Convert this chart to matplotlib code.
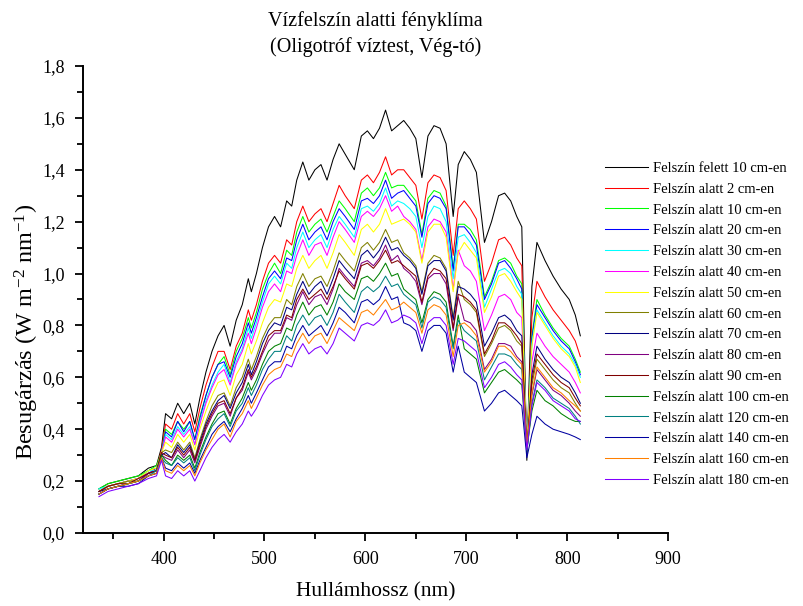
import matplotlib
matplotlib.use('Agg')
import matplotlib.pyplot as plt
from matplotlib.ticker import MultipleLocator, FuncFormatter

plt.rcParams['font.family'] = ['Liberation Serif', 'DejaVu Serif']
plt.rcParams['mathtext.fontset'] = 'custom'
plt.rcParams['mathtext.rm'] = 'Liberation Serif'
plt.rcParams['mathtext.it'] = 'Liberation Serif:italic'

# hullámhossz (nm)
wl = [336, 345, 355, 365, 375, 385, 393, 398,
      402, 408, 414, 420, 426, 431, 436, 442, 448, 454,
      460, 466, 472, 478, 484, 487, 492, 498, 504, 510,
      516, 522, 527, 532, 538, 544, 550, 556, 562, 568,
      574, 580, 589, 596, 602, 608, 614, 620, 626, 632,
      638, 644, 650, 656, 662, 668, 674, 680, 687, 692,
      698, 704, 710, 718, 725, 732, 738, 744, 750, 755,
      760, 765, 770, 778, 786, 794, 802, 808, 813]

# besugárzás (W m-2 nm-1), mélységenként
felett_10 = [0.17, 0.19, 0.20, 0.21, 0.22, 0.25, 0.26, 0.33,
             0.46, 0.44, 0.50, 0.46, 0.50, 0.42, 0.52, 0.62, 0.70, 0.76,
             0.80, 0.72, 0.82, 0.88, 0.98, 0.93, 1.00, 1.10, 1.18, 1.22,
             1.18, 1.28, 1.26, 1.36, 1.43, 1.36, 1.40, 1.42, 1.36, 1.44,
             1.50, 1.46, 1.40, 1.53, 1.55, 1.52, 1.56, 1.63, 1.55, 1.57,
             1.59, 1.56, 1.52, 1.37, 1.53, 1.57, 1.56, 1.50, 1.22, 1.42,
             1.47, 1.44, 1.39, 1.12, 1.20, 1.30, 1.31, 1.28, 1.22, 1.18,
             0.28, 0.95, 1.12, 1.05, 0.99, 0.94, 0.90, 0.84, 0.76]
alatt_2 = [0.16, 0.18, 0.19, 0.20, 0.21, 0.24, 0.25, 0.32,
           0.42, 0.40, 0.46, 0.42, 0.46, 0.39, 0.48, 0.57, 0.64, 0.70,
           0.70, 0.63, 0.72, 0.77, 0.86, 0.82, 0.88, 0.97, 1.04, 1.07,
           1.04, 1.13, 1.11, 1.20, 1.26, 1.20, 1.23, 1.25, 1.20, 1.27,
           1.34, 1.30, 1.25, 1.36, 1.38, 1.35, 1.39, 1.45, 1.38, 1.40,
           1.40, 1.37, 1.34, 1.21, 1.35, 1.38, 1.37, 1.32, 1.07, 1.25,
           1.28, 1.25, 1.21, 0.97, 1.04, 1.13, 1.14, 1.11, 1.06, 1.03,
           0.30, 0.83, 0.97, 0.91, 0.86, 0.82, 0.78, 0.74, 0.68]
alatt_10 = [0.17, 0.19, 0.20, 0.21, 0.22, 0.24, 0.26, 0.31,
            0.40, 0.38, 0.43, 0.40, 0.43, 0.36, 0.45, 0.53, 0.60, 0.65,
            0.68, 0.61, 0.70, 0.75, 0.83, 0.79, 0.85, 0.94, 1.00, 1.04,
            1.00, 1.09, 1.07, 1.16, 1.22, 1.16, 1.19, 1.21, 1.16, 1.22,
            1.28, 1.25, 1.20, 1.31, 1.33, 1.30, 1.33, 1.39, 1.33, 1.34,
            1.34, 1.31, 1.28, 1.15, 1.29, 1.32, 1.31, 1.26, 1.02, 1.19,
            1.19, 1.17, 1.13, 0.91, 0.97, 1.05, 1.06, 1.04, 0.99, 0.96,
            0.31, 0.76, 0.90, 0.84, 0.79, 0.75, 0.72, 0.67, 0.62]
alatt_20 = [0.16, 0.18, 0.19, 0.20, 0.21, 0.23, 0.25, 0.31,
            0.39, 0.37, 0.43, 0.39, 0.43, 0.36, 0.44, 0.53, 0.60, 0.65,
            0.66, 0.60, 0.68, 0.73, 0.81, 0.77, 0.83, 0.91, 0.98, 1.01,
            0.98, 1.06, 1.05, 1.13, 1.19, 1.13, 1.16, 1.18, 1.13, 1.20,
            1.25, 1.22, 1.17, 1.28, 1.29, 1.27, 1.30, 1.36, 1.29, 1.31,
            1.32, 1.29, 1.26, 1.14, 1.27, 1.30, 1.29, 1.25, 1.01, 1.18,
            1.18, 1.15, 1.11, 0.90, 0.96, 1.04, 1.05, 1.02, 0.98, 0.94,
            0.30, 0.75, 0.88, 0.83, 0.78, 0.74, 0.71, 0.66, 0.61]
alatt_30 = [0.17, 0.18, 0.19, 0.20, 0.21, 0.24, 0.24, 0.31,
            0.38, 0.36, 0.41, 0.38, 0.41, 0.34, 0.43, 0.51, 0.57, 0.62,
            0.65, 0.58, 0.66, 0.71, 0.79, 0.75, 0.81, 0.89, 0.96, 0.99,
            0.96, 1.04, 1.02, 1.10, 1.16, 1.10, 1.13, 1.15, 1.10, 1.17,
            1.22, 1.19, 1.14, 1.25, 1.26, 1.24, 1.27, 1.33, 1.26, 1.28,
            1.27, 1.25, 1.22, 1.10, 1.22, 1.26, 1.25, 1.20, 0.98, 1.14,
            1.15, 1.12, 1.08, 0.87, 0.94, 1.01, 1.02, 1.00, 0.95, 0.92,
            0.31, 0.73, 0.86, 0.81, 0.76, 0.72, 0.69, 0.65, 0.60]
alatt_40 = [0.16, 0.18, 0.19, 0.20, 0.21, 0.23, 0.24, 0.31,
            0.37, 0.35, 0.40, 0.37, 0.40, 0.34, 0.42, 0.50, 0.56, 0.61,
            0.63, 0.57, 0.65, 0.70, 0.77, 0.73, 0.79, 0.87, 0.93, 0.96,
            0.93, 1.01, 1.00, 1.07, 1.13, 1.07, 1.11, 1.12, 1.07, 1.14,
            1.20, 1.17, 1.12, 1.22, 1.24, 1.22, 1.25, 1.30, 1.24, 1.26,
            1.22, 1.20, 1.17, 1.05, 1.18, 1.21, 1.20, 1.16, 0.94, 1.09,
            1.03, 1.01, 0.97, 0.78, 0.84, 0.91, 0.92, 0.90, 0.85, 0.83,
            0.32, 0.66, 0.77, 0.72, 0.68, 0.65, 0.62, 0.58, 0.54]
alatt_50 = [0.16, 0.18, 0.19, 0.20, 0.21, 0.24, 0.25, 0.31,
            0.35, 0.33, 0.38, 0.35, 0.38, 0.32, 0.40, 0.47, 0.53, 0.58,
            0.59, 0.53, 0.61, 0.65, 0.73, 0.69, 0.74, 0.81, 0.87, 0.90,
            0.89, 0.96, 0.95, 1.02, 1.07, 1.02, 1.05, 1.07, 1.02, 1.08,
            1.15, 1.12, 1.07, 1.17, 1.19, 1.16, 1.19, 1.25, 1.19, 1.20,
            1.21, 1.19, 1.16, 1.04, 1.16, 1.19, 1.19, 1.14, 0.93, 1.08,
            1.12, 1.09, 1.06, 0.85, 0.91, 0.99, 1.00, 0.97, 0.93, 0.90,
            0.31, 0.72, 0.85, 0.80, 0.75, 0.71, 0.68, 0.64, 0.58]
alatt_60 = [0.16, 0.18, 0.19, 0.20, 0.20, 0.23, 0.24, 0.31,
            0.32, 0.31, 0.35, 0.32, 0.35, 0.29, 0.36, 0.43, 0.49, 0.53,
            0.54, 0.49, 0.56, 0.60, 0.67, 0.63, 0.68, 0.75, 0.80, 0.83,
            0.83, 0.90, 0.88, 0.95, 1.00, 0.95, 0.98, 0.99, 0.95, 1.01,
            1.08, 1.05, 1.01, 1.10, 1.12, 1.09, 1.12, 1.17, 1.12, 1.13,
            1.08, 1.06, 1.03, 0.93, 1.04, 1.07, 1.06, 1.02, 0.83, 0.97,
            0.90, 0.88, 0.85, 0.68, 0.73, 0.79, 0.80, 0.78, 0.74, 0.72,
            0.32, 0.57, 0.67, 0.63, 0.59, 0.56, 0.54, 0.50, 0.47]
alatt_70 = [0.16, 0.17, 0.18, 0.19, 0.20, 0.23, 0.24, 0.30,
            0.31, 0.29, 0.34, 0.31, 0.34, 0.28, 0.35, 0.42, 0.47, 0.51,
            0.53, 0.48, 0.54, 0.58, 0.65, 0.61, 0.66, 0.73, 0.78, 0.81,
            0.80, 0.87, 0.86, 0.92, 0.97, 0.92, 0.95, 0.97, 0.92, 0.98,
            1.05, 1.02, 0.98, 1.07, 1.09, 1.06, 1.09, 1.14, 1.09, 1.10,
            1.07, 1.05, 1.02, 0.92, 1.03, 1.05, 1.05, 1.01, 0.82, 0.95,
            0.94, 0.92, 0.89, 0.72, 0.77, 0.83, 0.84, 0.82, 0.78, 0.76,
            0.30, 0.61, 0.72, 0.67, 0.63, 0.60, 0.58, 0.54, 0.50]
alatt_80 = [0.15, 0.17, 0.18, 0.19, 0.20, 0.23, 0.24, 0.30,
            0.29, 0.28, 0.32, 0.29, 0.32, 0.27, 0.33, 0.40, 0.45, 0.49,
            0.50, 0.45, 0.52, 0.55, 0.62, 0.59, 0.63, 0.69, 0.74, 0.77,
            0.77, 0.83, 0.82, 0.88, 0.93, 0.88, 0.91, 0.92, 0.88, 0.94,
            1.02, 0.99, 0.95, 1.04, 1.05, 1.03, 1.06, 1.11, 1.05, 1.07,
            1.02, 1.00, 0.97, 0.88, 0.98, 1.00, 1.00, 0.96, 0.78, 0.91,
            0.82, 0.81, 0.78, 0.63, 0.67, 0.73, 0.73, 0.72, 0.68, 0.66,
            0.33, 0.53, 0.63, 0.59, 0.55, 0.53, 0.50, 0.47, 0.45]
alatt_90 = [0.16, 0.18, 0.19, 0.19, 0.21, 0.23, 0.24, 0.31,
            0.30, 0.29, 0.33, 0.30, 0.33, 0.28, 0.34, 0.41, 0.46, 0.50,
            0.51, 0.46, 0.52, 0.56, 0.63, 0.60, 0.64, 0.70, 0.76, 0.78,
            0.78, 0.84, 0.83, 0.90, 0.94, 0.90, 0.92, 0.94, 0.90, 0.95,
            1.01, 0.98, 0.94, 1.03, 1.04, 1.02, 1.05, 1.09, 1.04, 1.05,
            1.03, 1.01, 0.99, 0.89, 0.99, 1.02, 1.01, 0.98, 0.79, 0.92,
            0.91, 0.89, 0.86, 0.69, 0.74, 0.81, 0.81, 0.79, 0.76, 0.73,
            0.31, 0.59, 0.69, 0.65, 0.61, 0.58, 0.56, 0.52, 0.49]
alatt_100 = [0.15, 0.17, 0.18, 0.19, 0.20, 0.22, 0.23, 0.30,
             0.28, 0.26, 0.30, 0.28, 0.30, 0.25, 0.31, 0.37, 0.42, 0.46,
             0.47, 0.42, 0.48, 0.52, 0.58, 0.55, 0.59, 0.65, 0.70, 0.72,
             0.73, 0.79, 0.78, 0.84, 0.89, 0.84, 0.87, 0.88, 0.84, 0.89,
             0.96, 0.93, 0.90, 0.98, 0.99, 0.97, 1.00, 1.04, 0.99, 1.00,
             0.94, 0.92, 0.90, 0.81, 0.90, 0.93, 0.92, 0.89, 0.72, 0.84,
             0.71, 0.69, 0.67, 0.54, 0.58, 0.62, 0.63, 0.61, 0.59, 0.57,
             0.32, 0.47, 0.55, 0.51, 0.49, 0.46, 0.44, 0.43, 0.43]
alatt_120 = [0.15, 0.17, 0.18, 0.19, 0.20, 0.22, 0.24, 0.29,
             0.27, 0.26, 0.29, 0.27, 0.29, 0.24, 0.30, 0.36, 0.41, 0.44,
             0.46, 0.41, 0.47, 0.50, 0.56, 0.53, 0.57, 0.63, 0.67, 0.70,
             0.70, 0.76, 0.74, 0.80, 0.84, 0.80, 0.83, 0.84, 0.80, 0.85,
             0.92, 0.89, 0.85, 0.93, 0.95, 0.93, 0.95, 0.99, 0.95, 0.96,
             0.92, 0.90, 0.88, 0.79, 0.89, 0.91, 0.90, 0.87, 0.71, 0.82,
             0.78, 0.76, 0.74, 0.59, 0.64, 0.69, 0.69, 0.68, 0.65, 0.63,
             0.31, 0.50, 0.59, 0.56, 0.52, 0.50, 0.48, 0.45, 0.42]
alatt_140 = [0.15, 0.17, 0.18, 0.18, 0.19, 0.22, 0.23, 0.29,
             0.25, 0.24, 0.27, 0.25, 0.27, 0.23, 0.28, 0.33, 0.38, 0.41,
             0.43, 0.39, 0.44, 0.48, 0.53, 0.50, 0.54, 0.59, 0.64, 0.66,
             0.66, 0.72, 0.71, 0.76, 0.80, 0.76, 0.78, 0.80, 0.76, 0.81,
             0.87, 0.85, 0.81, 0.89, 0.90, 0.88, 0.90, 0.95, 0.90, 0.91,
             0.81, 0.80, 0.78, 0.70, 0.78, 0.80, 0.80, 0.77, 0.62, 0.72,
             0.62, 0.60, 0.58, 0.47, 0.50, 0.54, 0.55, 0.53, 0.51, 0.49,
             0.29, 0.38, 0.45, 0.42, 0.40, 0.39, 0.38, 0.37, 0.36]
alatt_160 = [0.15, 0.17, 0.18, 0.19, 0.20, 0.22, 0.23, 0.29,
             0.24, 0.23, 0.26, 0.24, 0.26, 0.22, 0.27, 0.32, 0.36, 0.40,
             0.42, 0.37, 0.43, 0.46, 0.51, 0.48, 0.52, 0.57, 0.61, 0.63,
             0.64, 0.69, 0.68, 0.73, 0.77, 0.73, 0.76, 0.77, 0.73, 0.78,
             0.83, 0.81, 0.78, 0.85, 0.86, 0.84, 0.87, 0.90, 0.86, 0.87,
             0.89, 0.87, 0.85, 0.77, 0.86, 0.88, 0.87, 0.84, 0.68, 0.80,
             0.81, 0.79, 0.76, 0.62, 0.66, 0.72, 0.72, 0.70, 0.67, 0.65,
             0.33, 0.54, 0.64, 0.60, 0.56, 0.54, 0.51, 0.49, 0.47]
alatt_180 = [0.14, 0.16, 0.17, 0.18, 0.19, 0.21, 0.22, 0.28,
             0.22, 0.21, 0.24, 0.22, 0.24, 0.20, 0.24, 0.29, 0.33, 0.36,
             0.38, 0.35, 0.39, 0.42, 0.47, 0.45, 0.48, 0.53, 0.57, 0.59,
             0.60, 0.65, 0.64, 0.69, 0.73, 0.69, 0.71, 0.72, 0.69, 0.73,
             0.79, 0.77, 0.74, 0.80, 0.81, 0.80, 0.82, 0.86, 0.81, 0.82,
             0.84, 0.83, 0.81, 0.73, 0.81, 0.83, 0.83, 0.80, 0.65, 0.75,
             0.74, 0.72, 0.70, 0.56, 0.60, 0.65, 0.66, 0.64, 0.61, 0.59,
             0.32, 0.49, 0.58, 0.55, 0.51, 0.49, 0.47, 0.44, 0.43]

series = [felett_10, alatt_2, alatt_10, alatt_20, alatt_30, alatt_40, alatt_50,
          alatt_60, alatt_70, alatt_80, alatt_90, alatt_100, alatt_120,
          alatt_140, alatt_160, alatt_180]
labels = ['Felszín felett 10 cm-en', 'Felszín alatt 2 cm-en', 'Felszín alatt 10 cm-en',
          'Felszín alatt 20 cm-en', 'Felszín alatt 30 cm-en', 'Felszín alatt 40 cm-en',
          'Felszín alatt 50 cm-en', 'Felszín alatt 60 cm-en', 'Felszín alatt 70 cm-en',
          'Felszín alatt 80 cm-en', 'Felszín alatt 90 cm-en', 'Felszín alatt 100 cm-en',
          'Felszín alatt 120 cm-en', 'Felszín alatt 140 cm-en', 'Felszín alatt 160 cm-en',
          'Felszín alatt 180 cm-en']
# Origin alapszínek sorrendben
colors = ['#000000', '#FF0000', '#00FF00', '#0000FF', '#00FFFF', '#FF00FF',
          '#FFFF00', '#808000', '#000080', '#800080', '#800000', '#008000',
          '#008080', '#0000A0', '#FF8000', '#8000FF']

fig = plt.figure(figsize=(8.04, 6.06), dpi=100)
ax = fig.add_axes([0.103, 0.1205, 0.728, 0.7706])

lines = []
for s, lab, c in zip(series, labels, colors):
    ln, = ax.plot(wl, s, color=c, lw=0.75, label=lab)
    lines.append(ln)

ax.set_xlim(320, 900)
ax.set_ylim(0, 1.8)
ax.xaxis.set_major_locator(MultipleLocator(100))
ax.xaxis.set_minor_locator(MultipleLocator(50))
ax.yaxis.set_major_locator(MultipleLocator(0.2))
ax.yaxis.set_minor_locator(MultipleLocator(0.1))
ax.yaxis.set_major_formatter(FuncFormatter(lambda v, p: f'{v:.1f}'.replace('.', ',')))

for side in ['top', 'right']:
    ax.spines[side].set_visible(False)
for side in ['left', 'bottom']:
    ax.spines[side].set_linewidth(1.4)
ax.tick_params(which='major', direction='out', length=6, width=1.3, labelsize=13, pad=7)
ax.tick_params(which='minor', direction='out', length=4, width=1.3)

ax.set_xlabel('Hullámhossz (nm)', fontsize=15.5, va='center')
ax.xaxis.set_label_coords(0.5, -0.126)
ax.set_ylabel('Besugárzás (W m$^{-2}$ nm$^{-1}$)', fontsize=17.5, va='center')
ax.yaxis.set_label_coords(-0.095, 0.43)
ax.set_title('Vízfelszín alatti fényklíma\n(Oligotróf víztest, Vég-tó)', fontsize=14.5, pad=10,
             linespacing=1.4)

fig.legend(lines, labels, loc='upper left', bbox_to_anchor=(0.752, 0.733), frameon=False,
           fontsize=10.5, handlelength=3.0, handletextpad=0.3, labelspacing=0.52,
           borderpad=0, borderaxespad=0)

fig.savefig('out.png', dpi=100)
